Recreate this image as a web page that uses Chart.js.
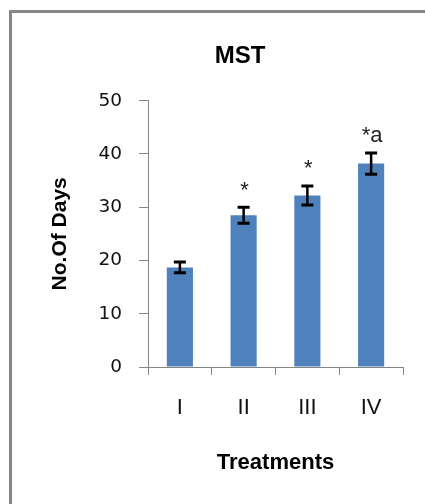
<!DOCTYPE html>
<html>
<head>
<meta charset="utf-8">
<script src="https://cdn.jsdelivr.net/npm/chart.js@4"></script>
<style>
  html, body { margin: 0; padding: 0; background: #fff; overflow: hidden; }
  #wrap { position: relative; width: 425px; height: 504px; }
</style>
</head>
<body>
<div id="wrap"><canvas id="c" width="425" height="504"></canvas></div>
<script>
const categories = ['I', 'II', 'III', 'IV'];
const values = [18.7, 28.5, 32.2, 38.2];
const errors = [1.0, 1.5, 1.8, 2.0];
const markers = ['', '*', '*', '*a'];
const chartTitle = 'MST';
const xTitle = 'Treatments';
const yTitle = 'No.Of Days';

const FONT = "'Liberation Sans', Arial, sans-serif";
const TICKFONT = "'DejaVu Sans', 'Liberation Sans', sans-serif";

const framePlugin = {
  id: 'frame',
  beforeDraw(chart) {
    const ctx = chart.ctx;
    ctx.save();
    ctx.fillStyle = '#fff';
    ctx.fillRect(0, 0, chart.width, chart.height);
    ctx.fillStyle = '#878787';
    ctx.fillRect(9, 10, chart.width, 3);
    ctx.fillRect(9, 10, 3, chart.height);
    ctx.restore();
  }
};

const extrasPlugin = {
  id: 'extras',
  afterDatasetsDraw(chart) {
    const ctx = chart.ctx;
    const y = chart.scales.y;
    const meta = chart.getDatasetMeta(0);
    ctx.save();
    meta.data.forEach((bar, i) => {
      const x = bar.x;
      const top = y.getPixelForValue(values[i] + errors[i]);
      const bot = y.getPixelForValue(values[i] - errors[i]);
      ctx.strokeStyle = '#000';
      ctx.lineWidth = 2.5;
      ctx.beginPath();
      ctx.moveTo(x, top);
      ctx.lineTo(x, bot);
      ctx.stroke();
      ctx.lineWidth = 3;
      ctx.beginPath();
      ctx.moveTo(x - 6, top);
      ctx.lineTo(x + 6, top);
      ctx.moveTo(x - 6, bot);
      ctx.lineTo(x + 6, bot);
      ctx.stroke();
      if (markers[i]) {
        ctx.fillStyle = '#222';
        ctx.font = '22px ' + FONT;
        ctx.textAlign = 'center';
        ctx.textBaseline = 'alphabetic';
        ctx.fillText(markers[i], x + 1, top - 10.5);
      }
    });
    // chart title
    ctx.fillStyle = '#000';
    ctx.font = 'bold 24px ' + FONT;
    ctx.textAlign = 'center';
    ctx.textBaseline = 'middle';
    ctx.fillText(chartTitle, 240, 56);
    ctx.restore();
  }
};

new Chart(document.getElementById('c'), {
  type: 'bar',
  data: {
    labels: categories,
    datasets: [{
      data: values,
      backgroundColor: '#4F81BD',
      borderWidth: 0,
      barPercentage: 0.41,
      categoryPercentage: 1.0
    }]
  },
  options: {
    responsive: false,
    animation: false,
    devicePixelRatio: 1,
    layout: { padding: { top: 100.7, right: 22, left: 0, bottom: 0 } },
    plugins: {
      legend: { display: false },
      tooltip: { enabled: false },
      title: { display: false }
    },
    scales: {
      x: {
        grid: {
          display: true,
          drawOnChartArea: false,
          drawTicks: true,
          tickLength: 8,
          color: '#868686',
          offset: true
        },
        border: { display: true, color: '#868686', width: 1 },
        ticks: {
          color: '#111',
          font: { family: FONT, size: 22 },
          padding: 20
        },
        title: {
          display: true,
          text: xTitle,
          color: '#000',
          font: { family: FONT, size: 22, weight: 'bold' },
          padding: { top: 0, bottom: 27.8 }
        },
        afterFit(scale) { scale.height = 137; }
      },
      y: {
        min: 0,
        max: 50,
        ticks: {
          stepSize: 10,
          color: '#111',
          font: { family: TICKFONT, size: 18.5 },
          padding: 17
        },
        grid: {
          display: true,
          drawOnChartArea: false,
          drawTicks: true,
          tickLength: 9,
          color: '#868686'
        },
        border: { display: true, color: '#868686', width: 1 },
        title: {
          display: true,
          text: yTitle,
          color: '#000',
          font: { family: FONT, size: 21, weight: 'bold' },
          padding: { top: 47.4, bottom: 0 }
        },
        afterFit(scale) { scale.width = 148; }
      }
    }
  },
  plugins: [framePlugin, extrasPlugin]
});
</script>
</body>
</html>
